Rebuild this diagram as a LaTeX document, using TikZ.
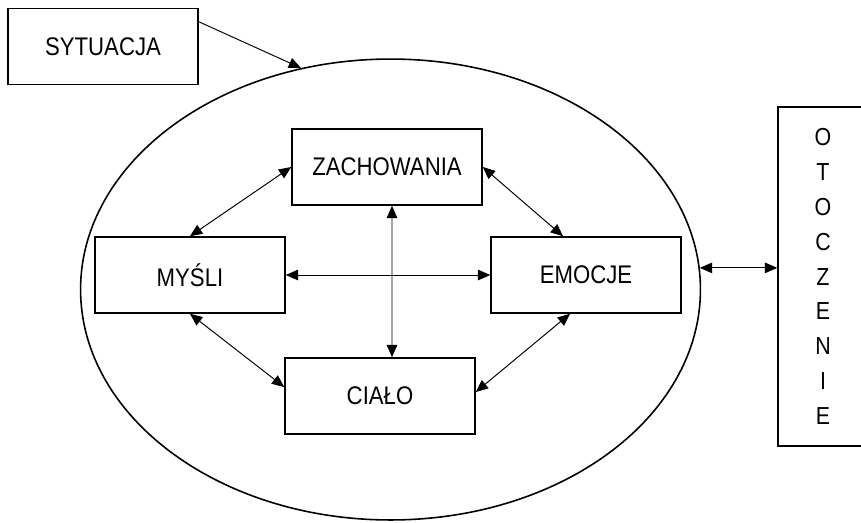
\documentclass[tikz,border=0pt]{standalone}
\usepackage{fontspec}
\setmainfont{Liberation Sans}[FakeStretch=0.87]
\usepackage{tikz}
\usetikzlibrary{arrows.meta,shapes.geometric}

\begin{document}
\begin{tikzpicture}[x=0.02cm, y=-0.02cm,
    box/.style={draw, line width=0.9pt, inner sep=0pt, minimum width=3.8cm, minimum height=1.52cm, font=\fontsize{14.5}{17}\selectfont},
    link/.style={{Triangle[length=7pt,width=6pt]}-{Triangle[length=7pt,width=6pt]}, line width=0.55pt},
    onelink/.style={-{Triangle[length=7pt,width=6pt]}, line width=0.55pt}]
    \useasboundingbox (0,0) rectangle (861,522);

    % Surroundings
    \node[draw, ellipse, line width=0.9pt, inner sep=0pt, minimum width=12.4cm, minimum height=9.22cm] (otoczka) at (390.5,289.5) {};
    \node[box, minimum width=1.8cm, minimum height=6.78cm, align=center, font=\fontsize{14}{19.85}\selectfont] (otoczenie) at (823,276.5) {O\\T\\O\\C\\Z\\E\\N\\I\\E};

    % Situation
    \node[box] (sytuacja) at (103,46.5) {SYTUACJA};

    % Inner boxes
    \node[box] (zach) at (387,167) {ZACHOWANIA};
    \node[box] (mysli) at (190,275) {MYŚLI};
    \node[box] (emocje) at (586,275) {EMOCJE};
    \node[box] (cialo) at (380,396) {CIAŁO};

    % Arrows
    \draw[onelink] ([yshift=-0.28cm]sytuacja.north east) -- (otoczka.112);
    \draw[link] (otoczka.4.5) -- (otoczka.4.5 -| otoczenie.west);
    \draw[link] (zach.west) -- (mysli.north);
    \draw[link] (zach.east) -- ([xshift=-0.46cm]emocje.north);
    \draw[link] (mysli.east) -- (emocje.west);
    \draw[link] ([xshift=0.1cm]zach.south) -- ([xshift=0.24cm]cialo.north);
    \draw[link] (mysli.south) -- ([yshift=0.18cm]cialo.west);
    \draw[link] ([xshift=-0.32cm]emocje.south) -- ([yshift=0.08cm]cialo.east);
\end{tikzpicture}
\end{document}
